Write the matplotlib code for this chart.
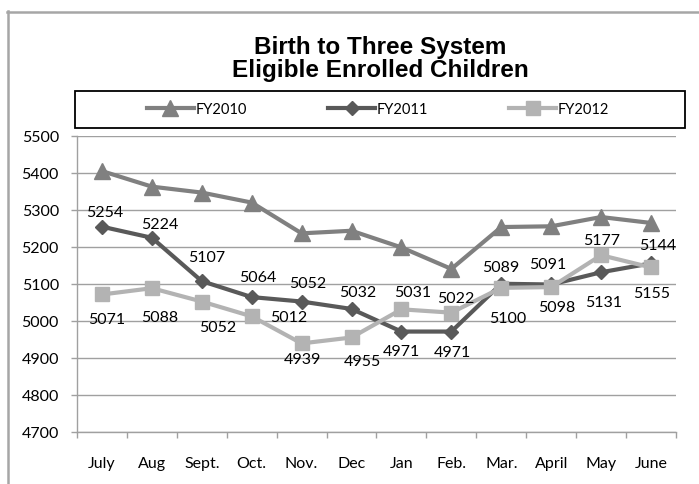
import matplotlib
matplotlib.use("Agg")
import matplotlib.pyplot as plt
from matplotlib.lines import Line2D
from matplotlib.patches import Rectangle

months = ["July", "Aug", "Sept.", "Oct.", "Nov.", "Dec", "Jan", "Feb.", "Mar.", "April", "May", "June"]
fy2010 = [5404, 5362, 5346, 5319, 5236, 5243, 5198, 5140, 5253, 5255, 5280, 5264]
fy2011 = [5254, 5224, 5107, 5064, 5052, 5032, 4971, 4971, 5100, 5098, 5131, 5155]
fy2012 = [5071, 5088, 5052, 5012, 4939, 4955, 5031, 5022, 5089, 5091, 5177, 5144]
yticks = [4700, 4800, 4900, 5000, 5100, 5200, 5300, 5400, 5500]

# label offsets in pixels (dx, dy)
off2011 = [(3, 15), (8, 14), (5, 24), (6, 20), (6, 19), (6, 17), (0, -19), (1, -20), (6, -34), (6, -23), (2, -30), (1, -30)]
off2012 = [(5, -25), (8, -29), (16, -25), (37, -1), (1, -16), (11, -24), (11, 17), (4, 15), (-1, 21), (-3, 23), (0, 15), (7, 22)]

W, H = 699, 485
fig = plt.figure(figsize=(W / 100, H / 100), dpi=100)
fig.patch.set_facecolor("white")

TXT = ["Lato", "DejaVu Sans"]

# chart border (left and top visible)
border_c = "#a6a6a6"
fig.add_artist(Line2D([7.5 / W, 7.5 / W], [0, 1 - 12 / H], color=border_c, lw=1.8, transform=fig.transFigure))
fig.add_artist(Line2D([7 / W, 1], [1 - 12.5 / H, 1 - 12.5 / H], color=border_c, lw=1.8, transform=fig.transFigure))

ax = fig.add_axes([77 / W, 1 - 433 / H, (676 - 77) / W, (433 - 136.5) / H])
x = list(range(len(months)))

grid_c = "#a0a0a0"
ax.set_ylim(4700, 5500)
ax.set_xlim(-0.5, len(months) - 0.5)
ax.set_yticks(yticks)
ax.yaxis.grid(True, color=grid_c, lw=1.0)
ax.set_axisbelow(True)
for s in ["top", "right"]:
    ax.spines[s].set_visible(False)
for s in ["left", "bottom"]:
    ax.spines[s].set_color(grid_c)
    ax.spines[s].set_linewidth(1.0)
ax.set_xticks(x)
ax.set_xticklabels(months, fontfamily=TXT, fontsize=11.5)
ax.set_xticks([i - 0.5 for i in range(len(months) + 1)], minor=True)
ax.tick_params(axis="x", which="major", length=0, pad=17)
ax.tick_params(axis="x", which="minor", length=4, color=grid_c, width=1.0)
ax.tick_params(axis="y", length=4, color=grid_c, width=1.0, pad=9)
for lab in ax.get_yticklabels():
    lab.set_fontfamily(TXT)
    lab.set_fontsize(11.5)

c10, c11, c12 = "#808080", "#595959", "#b3b3b3"
ax.plot(x, fy2010, color=c10, lw=3, marker="^", ms=11, label="FY2010", zorder=3, clip_on=False)
ax.plot(x, fy2011, color=c11, lw=3, marker="D", ms=7.5, label="FY2011", zorder=4, clip_on=False)
ax.plot(x, fy2012, color=c12, lw=3, marker="s", ms=10, label="FY2012", zorder=5, clip_on=False)

for xi, v, o in zip(x, fy2011, off2011):
    ax.annotate(str(v), (xi, v), xytext=o, textcoords="offset pixels", ha="center", va="center",
                fontfamily=TXT, fontsize=11.5, color="black", zorder=6)
for xi, v, o in zip(x, fy2012, off2012):
    ax.annotate(str(v), (xi, v), xytext=o, textcoords="offset pixels", ha="center", va="center",
                fontfamily=TXT, fontsize=11.5, color="black", zorder=6)

# title
fig.text(380 / W, 1 - 59 / H, "Birth to Three System\nEligible Enrolled Children", ha="center", va="center",
         fontfamily=["Liberation Sans", "DejaVu Sans"], fontweight="bold", fontsize=17.5, linespacing=1.05)

# legend box
fig.add_artist(Rectangle((75 / W, 1 - 129 / H), (685 - 75) / W, (129 - 92) / H, transform=fig.transFigure,
                         fill=False, edgecolor="black", lw=1.3))
leg = fig.legend(loc="center", bbox_to_anchor=(378 / W, 1 - 110.5 / H), ncol=3, frameon=False,
                 prop={"family": TXT, "size": 10.5}, handlelength=3.2, handletextpad=0.1, columnspacing=5.6)

fig.savefig("out.png", dpi=100, facecolor="white")
